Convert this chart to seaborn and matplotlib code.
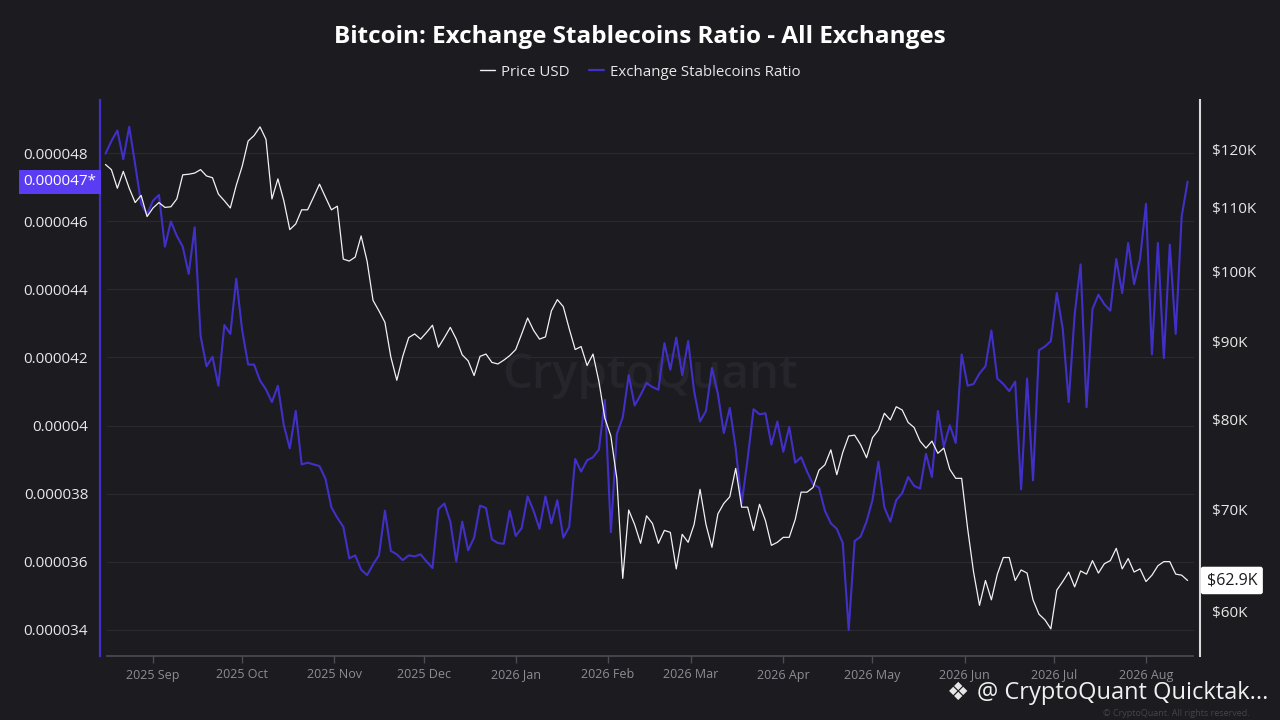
import numpy as np
import pandas as pd
import seaborn as sns
import matplotlib.pyplot as plt
import matplotlib.dates as mdates
import matplotlib.transforms as mtransforms
from matplotlib.lines import Line2D
from matplotlib.ticker import NullLocator

# every second day, 2025-08-16 .. 2026-08-15
dates = pd.date_range('2025-08-16', periods=183, freq='2D')

# BTC price in thousands of USD
price_k = [
    117.3, 116.4, 113.2, 116.1, 113.2, 110.8, 112.0, 108.5, 109.9, 110.8,
    110.0, 110.1, 111.4, 115.5, 115.6, 115.8, 116.4, 115.3, 115.0, 112.2,
    111.1, 109.9, 113.7, 117.0, 121.5, 122.5, 124.1, 121.8, 111.4, 114.8,
    111.1, 106.4, 107.3, 109.6, 109.6, 111.7, 113.9, 111.7, 109.6, 110.2,
    101.8, 101.5, 102.1, 105.4, 101.5, 95.7, 94.2, 92.6, 87.9, 84.9,
    88.0, 90.5, 91.0, 90.3, 91.2, 92.2, 89.2, 90.5, 91.9, 90.3,
    88.2, 87.4, 85.5, 88.0, 88.3, 87.2, 87.0, 87.5, 88.1, 88.9,
    91.0, 93.2, 91.5, 90.3, 90.6, 94.2, 95.8, 94.8, 91.7, 88.9,
    89.3, 86.8, 88.3, 84.7, 80.2, 78.1, 73.3, 63.1, 69.9, 68.4,
    66.5, 69.3, 68.5, 66.5, 67.8, 67.6, 64.0, 67.4, 66.6, 68.4,
    72.1, 68.4, 66.1, 69.5, 70.6, 71.3, 74.4, 70.2, 70.2, 67.8,
    70.5, 68.8, 66.3, 66.6, 67.1, 67.1, 68.9, 71.8, 71.8, 72.3,
    74.2, 74.8, 76.5, 73.7, 76.2, 78.1, 78.2, 77.1, 75.6, 77.9,
    78.8, 80.8, 80.0, 81.6, 81.2, 79.7, 79.1, 77.5, 76.7, 77.5,
    76.1, 76.7, 74.3, 73.3, 73.3, 68.0, 63.7, 60.6, 62.9, 61.1,
    63.5, 65.1, 65.1, 62.9, 63.9, 63.6, 61.1, 59.8, 59.3, 58.5,
    62.0, 62.8, 63.7, 62.3, 63.8, 63.5, 64.8, 63.6, 64.5, 64.8,
    66.0, 64.0, 65.0, 63.7, 64.0, 62.8, 63.4, 64.3, 64.7, 64.7,
    63.5, 63.4, 62.9,
]

# exchange stablecoins ratio, in units of 1e-6
ratio_e6 = [
    47.98, 48.35, 48.66, 47.82, 48.77, 47.66, 46.51, 46.20, 46.60, 46.77,
    45.25, 45.99, 45.57, 45.25, 44.45, 45.82, 42.63, 41.74, 42.02, 41.17,
    42.95, 42.69, 44.31, 42.79, 41.79, 41.79, 41.32, 41.06, 40.69, 41.17,
    40.01, 39.33, 40.43, 38.86, 38.91, 38.86, 38.81, 38.44, 37.60, 37.29,
    37.03, 36.10, 36.19, 35.77, 35.61, 35.92, 36.19, 37.50, 36.32, 36.22,
    36.05, 36.19, 36.16, 36.22, 36.01, 35.82, 37.55, 37.71, 37.18, 36.01,
    37.18, 36.34, 36.71, 37.65, 37.58, 36.66, 36.55, 36.53, 37.50, 36.76,
    36.99, 37.92, 37.50, 36.97, 37.92, 37.13, 37.81, 36.71, 37.03, 39.02,
    38.65, 38.98, 39.07, 39.30, 40.75, 36.87, 39.75, 40.24, 41.48, 40.59,
    40.90, 41.25, 41.13, 41.05, 42.42, 41.64, 42.58, 41.48, 42.48, 41.01,
    40.12, 40.43, 41.69, 40.93, 39.78, 40.52, 39.33, 37.71, 39.02, 40.48,
    40.33, 40.36, 39.44, 40.12, 39.23, 39.96, 38.91, 39.07, 38.65, 38.28,
    38.18, 37.50, 37.13, 36.97, 36.55, 34.00, 36.61, 36.74, 37.18, 37.81,
    38.94, 37.60, 37.18, 37.81, 38.02, 38.49, 38.23, 38.15, 39.17, 38.49,
    40.43, 39.38, 40.01, 39.49, 42.09, 41.17, 41.22, 41.53, 41.74, 42.79,
    41.38, 41.22, 41.01, 41.29, 38.13, 41.38, 38.39, 42.21, 42.32, 42.48,
    43.89, 42.84, 40.69, 43.26, 44.73, 40.54, 43.42, 43.84, 43.56, 43.37,
    44.89, 43.89, 45.36, 44.15, 44.89, 46.51, 42.09, 45.36, 41.98, 45.31,
    42.69, 46.14, 47.16,
]

month_ticks = pd.date_range('2025-09-01', '2026-08-01', freq='MS')
month_labels = [d.strftime('%Y %b') for d in month_ticks]

ratio_ticks = [34, 36, 38, 40, 42, 44, 46, 48]
ratio_labels = ['0.000034', '0.000036', '0.000038', '0.00004',
                '0.000042', '0.000044', '0.000046', '0.000048']
price_ticks = [60, 70, 80, 90, 100, 110, 120]
price_labels = ['$60K', '$70K', '$80K', '$90K', '$100K', '$110K', '$120K']

df = pd.DataFrame({
    'Date': dates,
    'Price': np.array(price_k) * 1000,
    'Ratio': np.array(ratio_e6) * 1e-6,
})

BG = '#1b1b20'
PURPLE = '#4130c6'
GRID = '#29292f'

sns.set_theme(style='dark', rc={'axes.facecolor': BG, 'figure.facecolor': BG,
                                'axes.grid': False, 'savefig.facecolor': BG})
plt.rcParams['font.family'] = ['Open Sans', 'DejaVu Sans']

fig = plt.figure(figsize=(12.8, 7.2), dpi=100)
ax = fig.add_axes([100 / 1280, 64 / 720, 1100 / 1280, 556 / 720])
ax2 = ax.twinx()

# watermark
ax.text(0.5, 0.505, 'CryptoQuant', transform=ax.transAxes, ha='center', va='center',
        fontsize=34, color='#25252b', weight='semibold', zorder=0.6)

for t in ratio_ticks:
    ax.axhline(t * 1e-6, xmin=0.006, xmax=0.994, color=GRID, lw=0.9, zorder=0.5)

sns.lineplot(data=df, x='Date', y='Ratio', ax=ax, color=PURPLE, lw=1.5, zorder=3)
sns.lineplot(data=df, x='Date', y='Price', ax=ax2, color='#f2f2f2', lw=0.9, zorder=3)

ax.set_xlim(pd.Timestamp('2025-08-14 04:00'), pd.Timestamp('2026-08-19 04:00'))
ax.set_ylim(33.236e-6, 49.556e-6)
ax2.set_yscale('log')
ax2.set_ylim(56170, 129200)

ax.set_xlabel('')
ax.set_ylabel('')
ax2.set_ylabel('')

ax.set_xticks(month_ticks)
ax.set_xticklabels(month_labels)
ax.set_yticks([t * 1e-6 for t in ratio_ticks])
ax.set_yticklabels(ratio_labels)
ax2.set_yticks([t * 1000 for t in price_ticks])
ax2.set_yticklabels(price_labels)
ax2.yaxis.set_minor_locator(NullLocator())

ax.tick_params(axis='x', colors='#4b4b52', labelcolor='#8d8d93', labelsize=9,
               length=5, width=1, direction='out', pad=4, bottom=True)
ax.tick_params(axis='y', labelcolor='#e8e8e8', labelsize=11, length=0, pad=8.5)
ax2.tick_params(axis='y', labelcolor='#e8e8e8', labelsize=11, length=0, pad=8.5)

for a in (ax, ax2):
    for side in ('top', 'bottom', 'left', 'right'):
        a.spines[side].set_visible(False)
ax.spines['bottom'].set_visible(True)
ax.spines['bottom'].set_color('#4b4b52')
ax.spines['bottom'].set_bounds(mdates.date2num(pd.Timestamp('2025-08-16 12:00')),
                               mdates.date2num(pd.Timestamp('2026-08-16 20:00')))
ax.spines['left'].set_visible(True)
ax.spines['left'].set_color(PURPLE)
ax.spines['left'].set_linewidth(1.6)
ax2.spines['right'].set_visible(True)
ax2.spines['right'].set_color('#d9d9d9')
ax2.spines['right'].set_linewidth(1.5)

# last value markers
trans_l = mtransforms.blended_transform_factory(ax.transAxes, ax.transData)
ax.text(-0.003, ratio_e6[-1] * 1e-6, '0.000047*', transform=trans_l, ha='right', va='center',
        fontsize=11, color='white', zorder=5, clip_on=False,
        bbox=dict(boxstyle='square,pad=0.3', fc='#5a3cf2', ec='none'))
trans_r = mtransforms.blended_transform_factory(ax2.transAxes, ax2.transData)
ax2.text(1.006, price_k[-1] * 1000, f'${price_k[-1]:.1f}K', transform=trans_r, ha='left',
         va='center', fontsize=11.5, color='#1b1b20', zorder=5, clip_on=False,
         bbox=dict(boxstyle='round,pad=0.36,rounding_size=0.15', fc='white', ec='none'))

fig.text(0.5, 1 - 37 / 720, 'Bitcoin: Exchange Stablecoins Ratio - All Exchanges',
         ha='center', va='center', fontsize=17.5, weight='bold', color='white')

handles = [Line2D([], [], color='#f2f2f2', lw=1.0), Line2D([], [], color=PURPLE, lw=1.6)]
fig.legend(handles, ['Price USD', 'Exchange Stablecoins Ratio'], loc='center',
           bbox_to_anchor=(0.5, 1 - 72 / 720), ncol=2, frameon=False, fontsize=10.8,
           labelcolor='#e8e8e8', handlelength=1.0, handletextpad=0.4, columnspacing=1.3)

# footer
fig.text(1250 / 1280, 1 - 713 / 720, '© CryptoQuant. All rights reserved.', ha='right',
         va='center', fontsize=6.5, color='#44444a')
fig.text(947 / 1280, 1 - 693 / 720, '❖', ha='left', va='center', fontsize=18,
         color='#e6e6e6', family=['DejaVu Sans'])
fig.text(977 / 1280, 1 - 693 / 720, '@ CryptoQuant Quicktak...', ha='left', va='center',
         fontsize=17, color='#f0f0f0')

fig.savefig('out.png', dpi=100, facecolor=BG)
